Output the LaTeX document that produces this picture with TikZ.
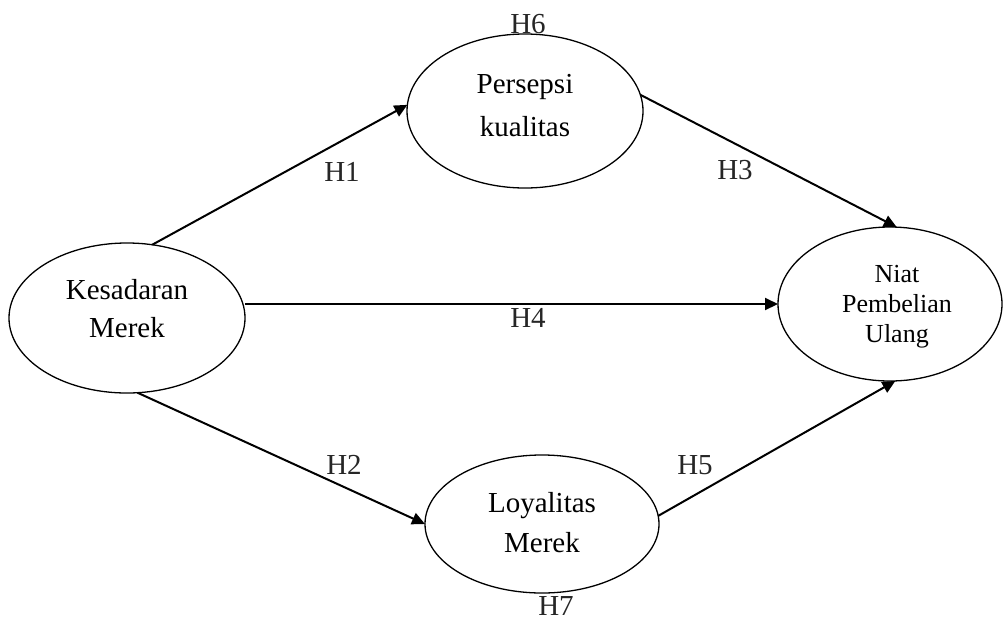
\documentclass[tikz,border=0pt]{standalone}
\usepackage{fontspec}
\setmainfont{Liberation Serif}
\usetikzlibrary{shapes.geometric,arrows.meta}
\begin{document}
\begin{tikzpicture}[x=1pt,y=-1pt,
  ell/.style={draw, ellipse, line width=1.3pt, inner sep=0pt, outer sep=0pt},
  txt/.style={align=center, inner sep=0pt},
  lab/.style={inner sep=0pt, font=\fontsize{29}{35}\selectfont, text=black!85},
  arr/.style={line width=2pt, -{Triangle[length=13pt,width=12pt]}}]
\useasboundingbox (0,0) rectangle (1004,622);

% ellipses
\node[ell, minimum width=236pt, minimum height=150pt] (K) at (127,318) {};
\node[ell, minimum width=236pt, minimum height=154pt] (P) at (525,111) {};
\node[ell, minimum width=224pt, minimum height=154pt] (N) at (890,304) {};
\node[ell, minimum width=234pt, minimum height=138pt] (L) at (542,524) {};

% ellipse texts
\node[txt, font=\fontsize{29}{38}\selectfont] (Kt) at (127,309) {Kesadaran\\Merek};
\node[txt, font=\fontsize{29}{43}\selectfont] (Pt) at (525,105.6) {Persepsi\\kualitas};
\node[txt, font=\fontsize{26}{30}\selectfont] (Nt) at (897,307) {Niat\\Pembelian\\Ulang};
\node[txt, font=\fontsize{29}{40}\selectfont] (Lt) at (542,523) {Loyalitas\\Merek};

% connectors
\draw[arr] (K.71) -- (P.177);
\draw[arr] (K.278) -- (L.180);
\draw[arr] (P.8) -- (N.85);
\draw[arr] (K.east |- N.west) -- (N.west);
\draw[arr] (L.4) -- (N.274);

% labels
\node[lab] (h1) at (342,172) {H1};
\node[lab] (h2) at (344,465) {H2};
\node[lab] (h3) at (735,170) {H3};
\node[lab] (h4) at (528,318) {H4};
\node[lab] (h5) at (695,465) {H5};
\node[lab] (h6) at (528,24) {H6};
\node[lab] (h7) at (556,606) {H7};
\end{tikzpicture}
\end{document}
